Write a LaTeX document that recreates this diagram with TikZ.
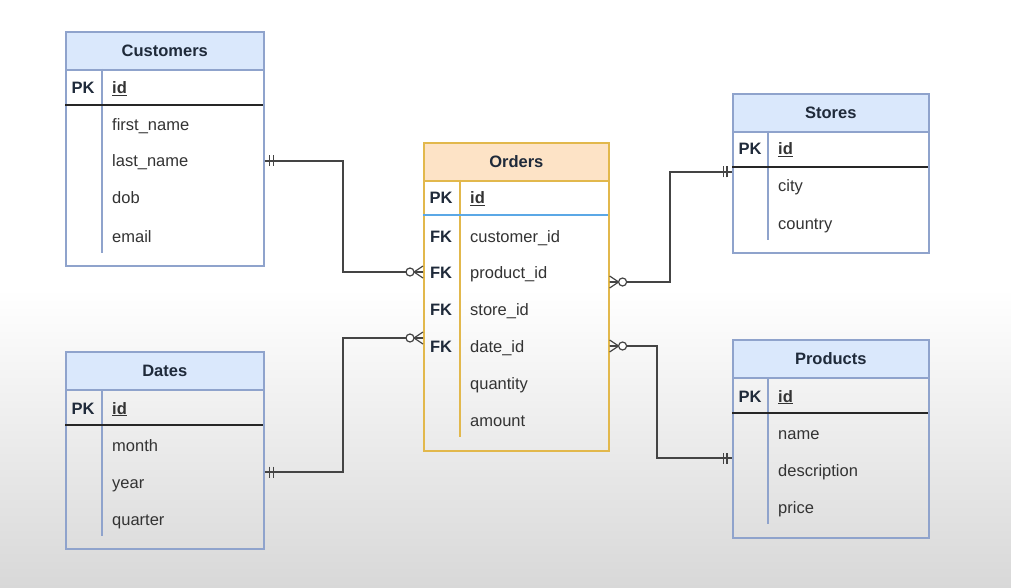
\documentclass[tikz,border=0pt]{standalone}
\usepackage{fontspec}
\setmainfont{Liberation Sans}
\usetikzlibrary{calc}
\definecolor{bluefill}{HTML}{DAE8FC}
\definecolor{blueline}{HTML}{8FA3CC}
\definecolor{orfill}{HTML}{FDE3C6}
\definecolor{orline}{HTML}{E2B84C}
\definecolor{pkblue}{HTML}{5BA8E6}
\definecolor{conn}{HTML}{444444}
\definecolor{txt}{HTML}{333333}
\definecolor{headtxt}{HTML}{1F2A3A}
\definecolor{bggray}{HTML}{D8D8D8}
\tikzset{
  fieldtxt/.style={anchor=west, inner sep=0pt, yshift=-2pt, text height=12pt, text depth=4pt, font=\fontsize{16.5}{18}\selectfont, text=txt},
  keytxt/.style={anchor=center, inner sep=0pt, yshift=-2pt, text height=12pt, text depth=4pt, font=\fontsize{16.5}{18}\selectfont\bfseries, text=headtxt},
  connline/.style={draw=conn, line width=1.4pt},
  one/.pic={\draw[conn, line width=1.2pt] (5,-5.5) -- (5,5.5) (8.5,-5.5) -- (8.5,5.5);},
  zmany/.pic={\draw[conn, line width=1.2pt] (0,-6) -- (9,0) -- (0,6) (0,0) -- (9,0);
              \draw[conn, line width=1.2pt, fill=white] (13,0) circle[radius=4];},
}
\newcommand\ertable[8]{%
  \node[draw=#8, line width=1.6pt, minimum width=#4pt, minimum height=#5pt, anchor=north west, inner sep=0pt] (#1) at (#2,#3) {};
  \node[draw=#8, fill=#7, line width=1.6pt, minimum width=#4pt, minimum height=38pt, anchor=north west, inner sep=0pt, font=\fontsize{16.5}{18}\selectfont\bfseries, text=headtxt] (#1-h) at (#2,#3) {#6};
}
\begin{document}
\begin{tikzpicture}[x=1pt,y=-1pt]
\useasboundingbox (0,0) rectangle (1011,588);
\fill[white] (0,0) rectangle (1011,290);
\shade[top color=white, bottom color=bggray] (0,289) rectangle (1011,588);

% ---------------- Customers
\ertable{cust}{65}{31}{198}{234}{Customers}{bluefill}{blueline}
\draw[blueline, line width=1.6pt] (102,69) -- (102,253);
\draw[black!85, line width=2pt] (65,105) -- (263,105);
\node[keytxt] (cust-pk) at (83,88) {PK};
\node[fieldtxt] (cust-id) at (112,88) {\bfseries\underline{id}};
\node[fieldtxt] (cust-r1) at (112,125) {first\_name};
\node[fieldtxt] (cust-r2) at (112,161) {last\_name};
\node[fieldtxt] (cust-r3) at (112,198) {dob};
\node[fieldtxt] (cust-r4) at (112,236) {email};

% ---------------- Dates
\ertable{dates}{65}{351}{198}{197}{Dates}{bluefill}{blueline}
\draw[blueline, line width=1.6pt] (102,389) -- (102,536);
\draw[black!85, line width=2pt] (65,425) -- (263,425);
\node[keytxt] (dates-pk) at (83,408) {PK};
\node[fieldtxt] (dates-id) at (112,408) {\bfseries\underline{id}};
\node[fieldtxt] (dates-r1) at (112,445) {month};
\node[fieldtxt] (dates-r2) at (112,482) {year};
\node[fieldtxt] (dates-r3) at (112,519) {quarter};

% ---------------- Orders
\ertable{ord}{423}{142}{185}{308}{Orders}{orfill}{orline}
\draw[orline, line width=1.6pt] (460,180) -- (460,437);
\draw[pkblue, line width=2pt] (423,215) -- (608,215);
\node[keytxt] (ord-pk) at (441,198) {PK};
\node[fieldtxt] (ord-id) at (470,198) {\bfseries\underline{id}};
\node[keytxt] (ord-fk1) at (441,236) {FK};
\node[fieldtxt] (ord-r1) at (470,236) {customer\_id};
\node[keytxt] (ord-fk2) at (441,272) {FK};
\node[fieldtxt] (ord-r2) at (470,272) {product\_id};
\node[keytxt] (ord-fk3) at (441,309) {FK};
\node[fieldtxt] (ord-r3) at (470,309) {store\_id};
\node[keytxt] (ord-fk4) at (441,346) {FK};
\node[fieldtxt] (ord-r4) at (470,346) {date\_id};
\node[fieldtxt] (ord-r5) at (470,383) {quantity};
\node[fieldtxt] (ord-r6) at (470,420) {amount};

% ---------------- Stores
\ertable{stores}{732}{93}{196}{159}{Stores}{bluefill}{blueline}
\draw[blueline, line width=1.6pt] (768,131) -- (768,240);
\draw[black!85, line width=2pt] (732,167) -- (928,167);
\node[keytxt] (stores-pk) at (750,149) {PK};
\node[fieldtxt] (stores-id) at (778,149) {\bfseries\underline{id}};
\node[fieldtxt] (stores-r1) at (778,186) {city};
\node[fieldtxt] (stores-r2) at (778,223) {country};

% ---------------- Products
\ertable{prod}{732}{339}{196}{198}{Products}{bluefill}{blueline}
\draw[blueline, line width=1.6pt] (768,377) -- (768,524);
\draw[black!85, line width=2pt] (732,413) -- (928,413);
\node[keytxt] (prod-pk) at (750,396) {PK};
\node[fieldtxt] (prod-id) at (778,396) {\bfseries\underline{id}};
\node[fieldtxt] (prod-r1) at (778,433) {name};
\node[fieldtxt] (prod-r2) at (778,470) {description};
\node[fieldtxt] (prod-r3) at (778,507) {price};

% ---------------- connection points
\coordinate (c1a) at (cust.east |- 0,161);
\coordinate (c1b) at (ord.west |- 0,272);
\coordinate (c2a) at (dates.east |- 0,472);
\coordinate (c2b) at (ord.west |- 0,338);
\coordinate (c3a) at (ord.east |- 0,282);
\coordinate (c3b) at (stores.west |- 0,172);
\coordinate (c4a) at (ord.east |- 0,346);
\coordinate (c4b) at (prod.west |- 0,458);

\draw[connline] (c1a) -- (343,161) |- (c1b);
\draw[connline] (c2a) -- (343,472) |- (c2b);
\draw[connline] (c3a) -- (670,282) |- (c3b);
\draw[connline] (c4a) -- (657,346) |- (c4b);

\pic at (c1a) {one};
\pic[rotate=180] at (c1b) {zmany};
\pic at (c2a) {one};
\pic[rotate=180] at (c2b) {zmany};
\pic at (c3a) {zmany};
\pic[rotate=180] at (c3b) {one};
\pic at (c4a) {zmany};
\pic[rotate=180] at (c4b) {one};
\end{tikzpicture}
\end{document}
